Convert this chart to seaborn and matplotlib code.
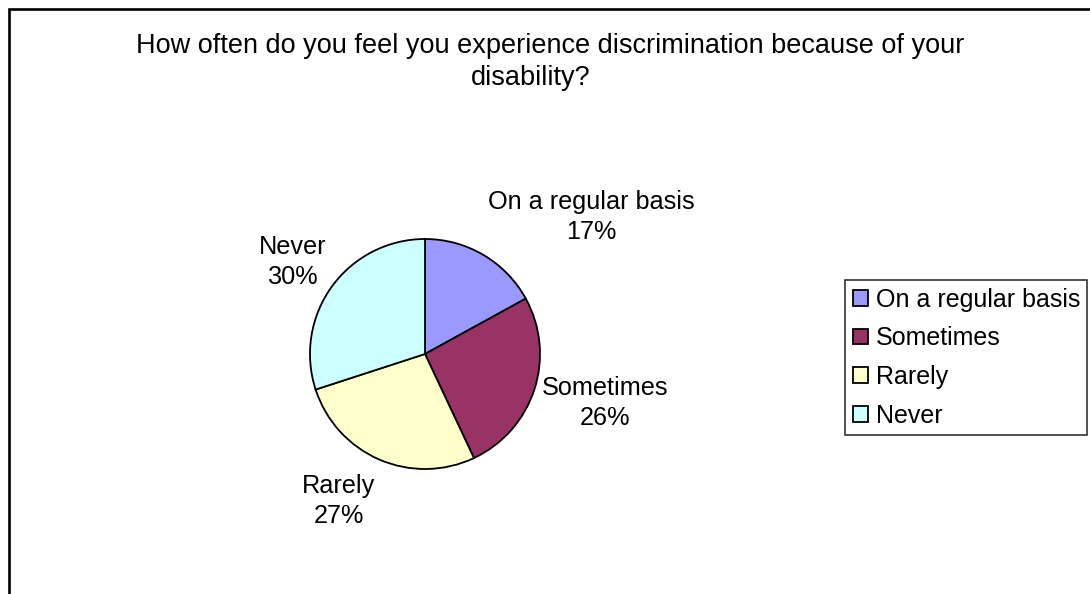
import matplotlib
matplotlib.use("Agg")
import matplotlib.pyplot as plt
import seaborn as sns
from matplotlib.patches import Rectangle

sns.set_theme(style="white")
plt.rcParams['font.family'] = ['Liberation Sans', 'DejaVu Sans']

# ---- data ----
categories = ["On a regular basis", "Sometimes", "Rarely", "Never"]
percentages = [17, 26, 27, 30]
colors = ["#9999FF", "#993366", "#FFFFCC", "#CCFFFF"]
title_lines = ["How often do you feel you experience discrimination because of your",
               "disability?"]

# label offsets (in pie-radius units) for the outside data labels
label_pos = [(1.45, 1.19), (1.565, -0.426), (-0.748, -1.278), (-1.148, 0.80)]

W, H = 1090, 594
fig = plt.figure(figsize=(W / 100, H / 100), dpi=100)
fig.patch.set_facecolor("white")

# border (top and left visible, rest runs off the image)
fig.add_artist(Rectangle((8.5 / W, -0.5), 2.0, 1.5 - 8.5 / H, transform=fig.transFigure,
                         fill=False, edgecolor="black", linewidth=1.9))

# title
fig.text(550 / W, 1 - 46 / H, title_lines[0], ha="center", va="center", fontsize=19.5, color="black")
fig.text(531 / W, 1 - 78 / H, title_lines[1], ha="center", va="center", fontsize=19.5, color="black")

# pie
cx, cy, r = 425, 354, 115
ax = fig.add_axes([(cx - r) / W, (H - cy - r) / H, 2 * r / W, 2 * r / H])
wedges, _ = ax.pie(percentages, colors=colors, startangle=90, counterclock=False,
                   radius=1.0, wedgeprops=dict(edgecolor="black", linewidth=1.3))
ax.set_xlim(-1, 1)
ax.set_ylim(-1, 1)
ax.set_aspect("equal")
ax.axis("off")

for cat, pct, (lx, ly) in zip(categories, percentages, label_pos):
    ax.text(lx, ly, f"{cat}\n{pct}%", ha="center", va="center", fontsize=18.2,
            color="black", linespacing=1.32, clip_on=False)

# legend
leg = fig.legend(wedges, categories, loc="upper left",
                 bbox_to_anchor=(845 / W, 1 - 280 / H),
                 frameon=True, fancybox=False, shadow=False,
                 fontsize=18.0, handlelength=0.6, handleheight=0.6,
                 handletextpad=0.32, labelspacing=0.59, borderpad=0.3,
                 borderaxespad=0.0, labelcolor="black")
leg.get_frame().set_edgecolor("black")
leg.get_frame().set_linewidth(1.2)

fig.savefig("out.png", dpi=100, facecolor="white")
